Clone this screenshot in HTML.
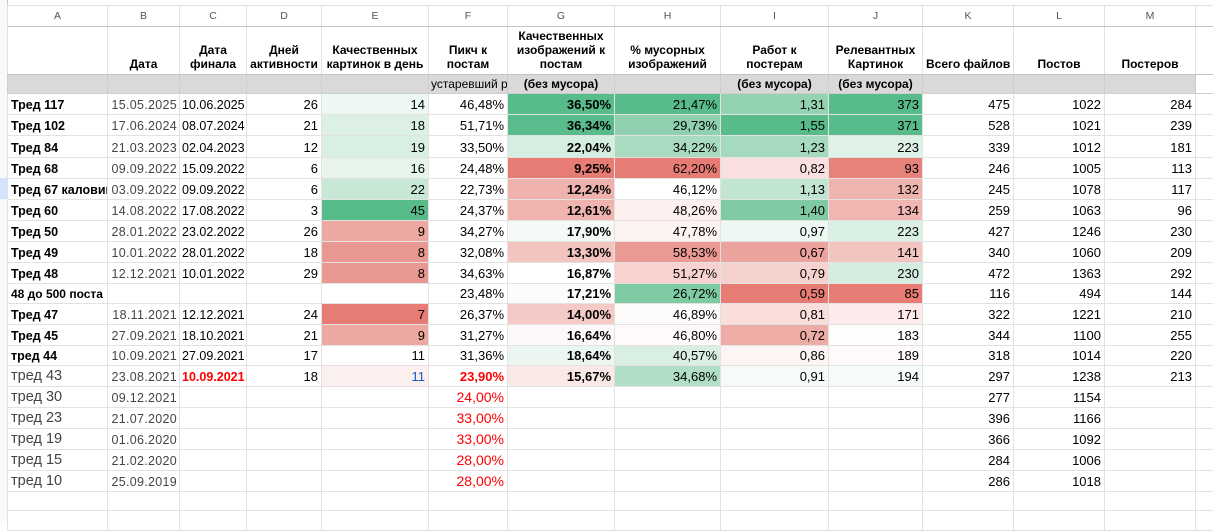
<!DOCTYPE html>
<html><head><meta charset="utf-8"><style>
body{margin:0;width:1213px;height:523px;overflow:hidden;background:#fff;font-family:"Liberation Sans",Arial,sans-serif;position:relative}
#rn{position:absolute;left:0;top:0;width:7px;height:523px;background:#f8f9fa;border-right:1px solid #c8c8c8}
#rn .sel{position:absolute;left:0;top:178px;width:7px;height:21px;background:#d3e3fd}
table{position:absolute;left:7px;top:5px;border-collapse:collapse;table-layout:fixed;width:1206px}
td{border:1px solid #e2e2e2;padding:0 3px;font-size:13px;white-space:nowrap;overflow:hidden;text-align:right;color:#000;line-height:1;vertical-align:bottom;padding-bottom:3px}
tr.L td{text-align:center;color:#555;font-size:10.5px;background:#fff;border-bottom:1px solid #c4c4c4;vertical-align:middle;padding-bottom:0}
tr.H td{text-align:center;vertical-align:bottom;font-weight:bold;font-size:12px;line-height:14px;padding-bottom:3px;border-bottom:1px solid #c4c4c4}
tr.G td{background:#d9d9d9;font-weight:bold;font-size:12px;text-align:center;border-color:#cfcfcf}
td.a{text-align:left;font-weight:bold;font-size:12.5px}
td.s{font-size:12px}
td.n{text-align:left;font-weight:normal;color:#444;font-size:14.5px}
td.b{color:#444;letter-spacing:.3px;text-align:right;font-size:12.5px;padding:0 2px 3px 0}
td.c{font-size:12.5px;padding:0 2px 3px 2px}
td.g{font-weight:bold}
.r{color:#f00}
.rb{color:#f00;font-weight:bold}
</style></head><body>
<div id="rn"><div class="sel"></div></div>
<table>
<colgroup><col style="width:100px"><col style="width:72px"><col style="width:67px"><col style="width:75px"><col style="width:107px"><col style="width:79px"><col style="width:107px"><col style="width:106px"><col style="width:108px"><col style="width:94px"><col style="width:91px"><col style="width:91px"><col style="width:91px"><col style="width:18px"></colgroup>
<tr class="L" style="height:21px"><td>A</td><td>B</td><td>C</td><td>D</td><td>E</td><td>F</td><td>G</td><td>H</td><td>I</td><td>J</td><td>K</td><td>L</td><td>M</td><td></td></tr>
<tr class="H" style="height:48px"><td></td><td>Дата</td><td>Дата<br>финала</td><td>Дней<br>активности</td><td>Качественных<br>картинок в день</td><td>Пикч к<br>постам</td><td>Качественных<br>изображений к<br>постам</td><td>% мусорных<br>изображений</td><td>Работ к<br>постерам</td><td>Релевантных<br>Картинок</td><td>Всего файлов</td><td>Постов</td><td>Постеров</td><td></td></tr>
<tr class="G" style="height:19px"><td></td><td></td><td></td><td></td><td></td><td style="font-weight:normal;text-align:left;padding-left:2px">устаревший р</td><td>(без мусора)</td><td></td><td>(без мусора)</td><td>(без мусора)</td><td></td><td></td><td></td><td style="background:#fff"></td></tr>
<tr style="height:21px"><td class="a">Тред 117</td><td class="b">15.05.2025</td><td class="c">10.06.2025</td><td>26</td><td style="background:#eef8f2">14</td><td>46,48%</td><td class="g" style="background:#57bb8a">36,50%</td><td style="background:#57bb8a">21,47%</td><td style="background:#93d3b1">1,31</td><td style="background:#57bb8a">373</td><td>475</td><td>1022</td><td>284</td><td></td></tr>
<tr style="height:21px"><td class="a">Тред 102</td><td class="b">17.06.2024</td><td class="c">08.07.2024</td><td>21</td><td style="background:#dcf0e4">18</td><td>51,71%</td><td class="g" style="background:#5abc8c">36,34%</td><td style="background:#8fd0ae">29,73%</td><td style="background:#57bb8a">1,55</td><td style="background:#58bb8b">371</td><td>528</td><td>1021</td><td>239</td><td></td></tr>
<tr style="height:22px"><td class="a">Тред 84</td><td class="b">21.03.2023</td><td class="c">02.04.2023</td><td>12</td><td style="background:#d9efe2">19</td><td>33,50%</td><td class="g" style="background:#d5eee0">22,04%</td><td style="background:#a9dbc1">34,22%</td><td style="background:#a6dabf">1,23</td><td style="background:#dff2e7">223</td><td>339</td><td>1012</td><td>181</td><td></td></tr>
<tr style="height:21px"><td class="a">Тред 68</td><td class="b">09.09.2022</td><td class="c">15.09.2022</td><td>6</td><td style="background:#e6f4ec">16</td><td>24,48%</td><td class="g" style="background:#e67c73">9,25%</td><td style="background:#e67c73">62,20%</td><td style="background:#f9e0de">0,82</td><td style="background:#e6827a">93</td><td>246</td><td>1005</td><td>113</td><td></td></tr>
<tr style="height:21px"><td class="a">Тред 67 каловик</td><td class="b">03.09.2022</td><td class="c">09.09.2022</td><td>6</td><td style="background:#c8e8d6">22</td><td>22,73%</td><td class="g" style="background:#f0b2ad">12,24%</td><td>46,12%</td><td style="background:#c1e5d1">1,13</td><td style="background:#f0b4af">132</td><td>245</td><td>1078</td><td>117</td><td></td></tr>
<tr style="height:21px"><td class="a">Тред 60</td><td class="b">14.08.2022</td><td class="c">17.08.2022</td><td>3</td><td style="background:#57bb8a">45</td><td>24,37%</td><td class="g" style="background:#f0b4af">12,61%</td><td style="background:#fdf0ef">48,26%</td><td style="background:#7fcaa3">1,40</td><td style="background:#f0b6b1">134</td><td>259</td><td>1063</td><td>96</td><td></td></tr>
<tr style="height:21px"><td class="a">Тред 50</td><td class="b">28.01.2022</td><td class="c">23.02.2022</td><td>26</td><td style="background:#eda8a2">9</td><td>34,27%</td><td class="g" style="background:#f3faf6">17,90%</td><td style="background:#fdf3f2">47,78%</td><td style="background:#eef8f2">0,97</td><td style="background:#dbf0e4">223</td><td>427</td><td>1246</td><td>230</td><td></td></tr>
<tr style="height:21px"><td class="a">Тред 49</td><td class="b">10.01.2022</td><td class="c">28.01.2022</td><td>18</td><td style="background:#e99891">8</td><td>32,08%</td><td class="g" style="background:#f3c4c0">13,30%</td><td style="background:#ea9a93">58,53%</td><td style="background:#eca39d">0,67</td><td style="background:#f3c5c1">141</td><td>340</td><td>1060</td><td>209</td><td></td></tr>
<tr style="height:21px"><td class="a">Тред 48</td><td class="b">12.12.2021</td><td class="c">10.01.2022</td><td>29</td><td style="background:#e99891">8</td><td>34,63%</td><td class="g">16,87%</td><td style="background:#f7d2cf">51,27%</td><td style="background:#f6d2ce">0,79</td><td style="background:#d4ede0">230</td><td>472</td><td>1363</td><td>292</td><td></td></tr>
<tr style="height:20px"><td class="a s">48 до 500 поста</td><td></td><td></td><td></td><td></td><td>23,48%</td><td class="g" style="background:#fbfdfc">17,21%</td><td style="background:#7ecaa3">26,72%</td><td style="background:#e67c73">0,59</td><td style="background:#e67c73">85</td><td>116</td><td>494</td><td>144</td><td></td></tr>
<tr style="height:21px"><td class="a">Тред 47</td><td class="b">18.11.2021</td><td class="c">12.12.2021</td><td>24</td><td style="background:#e67c73">7</td><td>26,37%</td><td class="g" style="background:#f5cac6">14,00%</td><td style="background:#fefbfb">46,89%</td><td style="background:#f9dedb">0,81</td><td style="background:#fcebea">171</td><td>322</td><td>1221</td><td>210</td><td></td></tr>
<tr style="height:21px"><td class="a">Тред 45</td><td class="b">27.09.2021</td><td class="c">18.10.2021</td><td>21</td><td style="background:#eda8a2">9</td><td>31,27%</td><td class="g" style="background:#fdf9f9">16,64%</td><td style="background:#fefafa">46,80%</td><td style="background:#eeaca6">0,72</td><td style="background:#fffcfc">183</td><td>344</td><td>1100</td><td>255</td><td></td></tr>
<tr style="height:20px"><td class="a">тред 44</td><td class="b">10.09.2021</td><td class="c">27.09.2021</td><td>17</td><td>11</td><td>31,36%</td><td class="g" style="background:#ecf6f0">18,64%</td><td style="background:#d8efe2">40,57%</td><td style="background:#fdf5f4">0,86</td><td style="background:#fffafa">189</td><td>318</td><td>1014</td><td>220</td><td></td></tr>
<tr style="height:21px"><td class="a n">тред 43</td><td class="b">23.08.2021</td><td class="c rb">10.09.2021</td><td>18</td><td style="background:#fcf0ef;color:#1155cc">11</td><td class="rb">23,90%</td><td class="g" style="background:#fbe9e7">15,67%</td><td style="background:#b0dec6">34,68%</td><td style="background:#f6fbf8">0,91</td><td style="background:#f5fbf7">194</td><td>297</td><td>1238</td><td>213</td><td></td></tr>
<tr style="height:21px"><td class="a n">тред 30</td><td class="b">09.12.2021</td><td></td><td></td><td></td><td class="r" style="font-size:14px">24,00%</td><td></td><td></td><td></td><td></td><td>277</td><td>1154</td><td></td><td></td></tr>
<tr style="height:21px"><td class="a n">тред 23</td><td class="b">21.07.2020</td><td></td><td></td><td></td><td class="r" style="font-size:14px">33,00%</td><td></td><td></td><td></td><td></td><td>396</td><td>1166</td><td></td><td></td></tr>
<tr style="height:21px"><td class="a n">тред 19</td><td class="b">01.06.2020</td><td></td><td></td><td></td><td class="r" style="font-size:14px">33,00%</td><td></td><td></td><td></td><td></td><td>366</td><td>1092</td><td></td><td></td></tr>
<tr style="height:21px"><td class="a n">тред 15</td><td class="b">21.02.2020</td><td></td><td></td><td></td><td class="r" style="font-size:14px">28,00%</td><td></td><td></td><td></td><td></td><td>284</td><td>1006</td><td></td><td></td></tr>
<tr style="height:21px"><td class="a n">тред 10</td><td class="b">25.09.2019</td><td></td><td></td><td></td><td class="r" style="font-size:14px">28,00%</td><td></td><td></td><td></td><td></td><td>286</td><td>1018</td><td></td><td></td></tr>
<tr style="height:19px"><td></td><td></td><td></td><td></td><td></td><td></td><td></td><td></td><td></td><td></td><td></td><td></td><td></td><td></td></tr>
<tr style="height:20px"><td></td><td></td><td></td><td></td><td></td><td></td><td></td><td></td><td></td><td></td><td></td><td></td><td></td><td></td></tr>
</table>
</body></html>
